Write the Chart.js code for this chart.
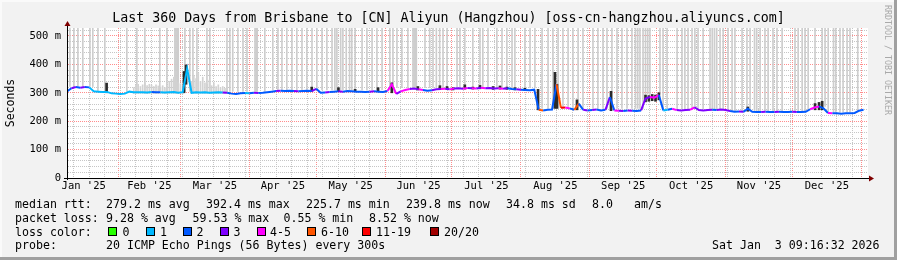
<!DOCTYPE html>
<html>
<head>
<meta charset="utf-8">
<script src="https://cdn.jsdelivr.net/npm/chart.js@4.4.0/dist/chart.umd.min.js"></script>
<style>
  html, body { margin: 0; padding: 0; background: #f2f2f2; }
  #wrap { position: relative; width: 897px; height: 260px; background: #f2f2f2; overflow: hidden;
          font-family: "DejaVu Sans Mono", monospace; color: #000; }
  #wrap canvas { position: absolute; left: 0; top: 0; }
  .t { position: absolute; white-space: pre; font-size: 11.6px; line-height: 14px; }
  #title { position: absolute; left: 0; top: 10px; width: 897px; text-align: center;
           font-size: 13.3px; line-height: 16px; white-space: pre; }
  #credit { position: absolute; left: 883px; top: 5px; writing-mode: vertical-rl; font-size: 8.3px;
            line-height: 10px; color: #a9a9a9; white-space: pre; }
  .box { position: absolute; width: 7px; height: 7px; border: 1px solid #000; }
  .edge { position: absolute; }
</style>
</head>
<body>
<div id="wrap">
  <canvas id="c" width="897" height="260"></canvas>
  <div id="title">Last 360 Days from Brisbane to [CN] Aliyun (Hangzhou) [oss-cn-hangzhou.aliyuncs.com]</div>
  <div id="credit">RRDTOOL / TOBI OETIKER</div>

  <div class="t" style="left:15px;top:197px">median rtt:</div>
  <div class="t" style="left:106px;top:197px">279.2 ms avg</div>
  <div class="t" style="left:206px;top:197px">392.4 ms max</div>
  <div class="t" style="left:306px;top:197px">225.7 ms min</div>
  <div class="t" style="left:406px;top:197px">239.8 ms now</div>
  <div class="t" style="left:506px;top:197px">34.8 ms sd</div>
  <div class="t" style="left:592px;top:197px">8.0</div>
  <div class="t" style="left:634px;top:197px">am/s</div>

  <div class="t" style="left:15px;top:210.7px">packet loss:</div>
  <div class="t" style="left:106px;top:210.7px">9.28 % avg</div>
  <div class="t" style="left:192.5px;top:210.7px">59.53 % max</div>
  <div class="t" style="left:283.5px;top:210.7px">0.55 % min</div>
  <div class="t" style="left:369px;top:210.7px">8.52 % now</div>

  <div class="t" style="left:15px;top:224.5px">loss color:</div>
  <div id="lossLegend"></div>

  <div class="t" style="left:15px;top:238.3px">probe:</div>
  <div class="t" style="left:106px;top:238.3px">20 ICMP Echo Pings (56 Bytes) every 300s</div>
  <div class="t" style="left:712px;top:238.3px">Sat Jan  3 09:16:32 2026</div>

  <div class="edge" style="left:0;top:0;width:897px;height:2px;background:#fafafa"></div>
  <div class="edge" style="left:0;top:0;width:2px;height:260px;background:#fafafa"></div>
  <div class="edge" style="left:0;top:257px;width:897px;height:3px;background:#a0a0a0"></div>
  <div class="edge" style="left:894px;top:0;width:3px;height:260px;background:#a0a0a0"></div>
</div>
<script>
// ---- data (days are counted from 1 Jan 2025 = day 0) ----

// RRD consolidated samples: one every 2 days starting at day 8 (9 Jan 2025)
const sampleStartDay = 8;
const sampleStepDays = 2;

// median RTT per sample, ms
const medianRtt = [
  305, 316, 320, 318, 320, 319, 305, 304, 303, 303,
  298, 297, 296, 297, 304, 302, 302, 302, 301, 303,
  302, 302, 301, 302, 303, 300, 302, 385, 300, 302,
  301, 302, 300, 301, 302, 301, 300, 297, 296, 298,
  299, 298, 300, 299, 300, 302, 304, 306, 307, 306,
  307, 306, 305, 306, 307, 306, 314, 300, 301, 303,
  304, 305, 304, 306, 305, 304, 304, 303, 304, 305,
  304, 303, 306, 330, 296, 305, 310, 313, 315, 312,
  310, 307, 309, 312, 313, 314, 312, 315, 316, 314,
  317, 316, 315, 318, 316, 317, 315, 316, 314, 316,
  313, 312, 311, 310, 309, 311, 240, 238, 240, 241,
  330, 247, 248, 245, 240, 262, 240, 238, 239, 241,
  238, 240, 285, 238, 237, 236, 238, 237, 236, 238,
  280, 285, 283, 292, 238, 240, 244, 239, 238, 239,
  240, 249, 239, 238, 239, 240, 239, 241, 239, 236,
  233, 234, 233, 244, 233, 232, 232, 233, 232, 232,
  233, 232, 232, 233, 232, 232, 233, 242, 248, 252,
  245, 229, 228, 228, 226, 228, 228, 229, 237, 240,
];

// loss class per sample (index into lossLabels / lossColors)
const lossClass = [
  2, 2, 3, 2, 3, 2, 1, 1, 1, 1,
  1, 1, 1, 1, 1, 1, 1, 1, 1, 1,
  2, 2, 1, 1, 1, 1, 1, 1, 1, 1,
  1, 1, 1, 1, 1, 1, 3, 2, 2, 2,
  2, 1, 2, 3, 2, 2, 2, 2, 3, 2,
  2, 2, 3, 2, 2, 2, 3, 2, 2, 3,
  2, 2, 3, 2, 2, 2, 2, 2, 2, 3,
  2, 2, 2, 4, 4, 3, 4, 4, 3, 3,
  4, 2, 2, 3, 3, 4, 3, 4, 3, 3,
  4, 3, 4, 3, 4, 3, 3, 3, 4, 3,
  2, 2, 3, 2, 2, 2, 2, 5, 2, 2,
  2, 5, 6, 4, 2, 5, 2, 3, 2, 3,
  2, 2, 3, 2, 4, 3, 2, 3, 2, 2,
  3, 3, 4, 4, 2, 1, 2, 4, 3, 3,
  3, 4, 3, 3, 3, 3, 2, 3, 3, 3,
  2, 2, 3, 2, 2, 2, 2, 3, 2, 2,
  3, 2, 2, 2, 3, 2, 2, 2, 4, 4,
  2, 2, 4, 2, 2, 2, 2, 2, 2, 2,
];

const lossLabels = ["0", "1", "2", "3", "4-5", "6-10", "11-19", "20/20"];
const lossColors = ["#26ff00", "#00b8ff", "#0059ff", "#7e00ff", "#ff00ff", "#ff5500", "#ff0000", "#a10000"];

// outlier smoke: samples whose slowest pings went off the top of the graph
const tallSmokeDays = [
  9.3, 11.1, 12.9, 15.1, 18.3, 19.6, 21.9, 25.0, 34.9, 39.4, 43.0, 49.7, 52.9, 56.5, 57, 57.5, 58,
  61.0, 63.2, 64.6, 66.4, 70.9, 72.2, 79.9, 81.2, 82.5, 84.8, 87.1, 88.9, 92.5, 93, 93.5, 96.9,
  100.5, 102.8, 104.6, 106.8, 109.1, 111.3, 113.6, 115.8, 118.1, 120.3, 122.6, 124.8, 127.1, 128.4,
  129.3, 131, 132, 133.5, 135, 136, 137.5, 140.6, 142.8, 145.1, 147.3, 149.6, 153.1, 154.5, 156.3,
  158.5, 161.2, 163.5, 164, 164.5, 165, 168.9, 171, 172.5, 174, 175.5, 177, 178.8, 183.3, 184.6,
  186.8, 190.4, 193.6, 194.9, 197.2, 201.2, 203.5, 205.7, 208, 209.3, 213.8, 216.1, 218.3, 221.5,
  224.2, 226.4, 228.7, 230.9, 233.2, 235.4, 237.7, 239.9, 244.4, 246.6, 248.9, 250.7, 252.9, 255.2,
  257.4, 259.7, 261.9, 263.5, 264.5, 265.5, 266.9, 268, 269, 270, 274.5, 275.9, 277.7, 282.2, 284.4,
  285.7, 287.1, 288.9, 290.2, 291.6, 293.9, 297, 298, 299, 300, 301.5, 302.9, 305.1, 306.9, 308.2,
  311.4, 313.6, 315, 317, 318, 319.5, 321.7, 323.1, 325.3, 327.1, 329.4, 335.2, 336.6, 338.4, 339.7,
  341.1, 344.2, 347.4, 348.7, 350.1, 352.5, 353.5, 355.4, 356.8, 358.6, 359.9, 363.4,
];
// where the outlier smoke starts (just above the median), by period
const smokeFloorFrom = [8, 20, 100, 156, 219.7, 267, 275, 306, 342, 349];
const smokeFloorMs = [322, 305, 310, 318, 245, 295, 244, 237, 252, 232];
const smokeCeilingMs = 600;

// lighter smoke band around February-March
const greySmokeDays = [
  38, 39, 40, 41, 42, 43, 44, 45, 46, 47, 48, 49, 50, 51, 52, 53, 54, 55, 56, 57, 58, 59, 60,
  64, 65, 66, 67, 68, 69, 70, 71, 72, 73, 74, 75, 76, 77, 78, 79, 80,
];
const greySmokeTop = [
  318, 326, 330, 322, 328, 334, 325, 330, 327, 322, 328, 324, 320, 325, 318, 322, 340, 348, 355, 345, 338, 332, 325,
  340, 360, 350, 368, 340, 355, 335, 330, 345, 325, 335, 322, 328, 318, 322, 316, 318,
];
const greySmokeBase = 297;

// dense (dark) smoke spikes
const darkSmokeDays = [
  25.8, 60.6, 61.5, 118, 130, 137.5, 147.8, 154, 165.7, 175.6,
  178.8, 181.5, 186.8, 190.4, 193.6, 199.5, 202.6, 205.7, 209.3, 213.8,
  219.7, 227.3, 228.2, 237.2, 252.5, 268, 269.5, 271, 272.5, 274,
  314, 344.2, 346, 347.4,
];
const darkSmokeLow = [
  300, 300, 330, 305, 304, 304, 304, 300, 310, 312,
  312, 310, 313, 313, 314, 312, 313, 312, 310, 308,
  240, 245, 245, 240, 237, 268, 270, 272, 270, 275,
  235, 240, 240, 240,
];
const darkSmokeHigh = [
  334, 375, 398, 320, 318, 312, 318, 335, 322, 325,
  322, 318, 328, 320, 326, 322, 324, 320, 318, 316,
  312, 372, 330, 275, 305, 292, 290, 294, 292, 300,
  250, 262, 266, 270,
];

// calendar: first day of each month (2025 plus 1 Jan 2026) and labels
const monthStartDays = [0, 31, 59, 90, 120, 151, 181, 212, 243, 273, 304, 334, 365];
const monthLabels = ["Jan '25", "Feb '25", "Mar '25", "Apr '25", "May '25", "Jun '25",
                     "Jul '25", "Aug '25", "Sep '25", "Oct '25", "Nov '25", "Dec '25"];
const firstSundayDay = 4; // 5 Jan 2025

const xMinDay = 8, xMaxDay = 368;
const yMaxMs = 528, yMajorStep = 100, yMinorStep = 20;

// ---- loss colour legend (html) ----
const lossBoxLeft = [108, 145.5, 182.5, 220, 256.5, 306.5, 361.5, 430];
const lossTextLeft = [122.5, 160, 196.5, 233.5, 270, 321, 376, 444];
const legendEl = document.getElementById("lossLegend");
lossLabels.forEach((lab, i) => {
  const b = document.createElement("div");
  b.className = "box";
  b.style.left = lossBoxLeft[i] + "px";
  b.style.top = "227px";
  b.style.background = lossColors[i];
  legendEl.appendChild(b);
  const t = document.createElement("div");
  t.className = "t";
  t.style.left = lossTextLeft[i] + "px";
  t.style.top = "224.5px";
  t.textContent = lab;
  legendEl.appendChild(t);
});

// ---- axis ticks ----
const monthLineSet = new Set(monthStartDays.filter((d) => d > xMinDay && d < xMaxDay));
const weekLineSet = new Set();
for (let d = firstSundayDay; d < xMaxDay; d += 7) if (d > xMinDay && !monthLineSet.has(d)) weekLineSet.add(d);
const labelByDay = new Map();
monthLabels.forEach((lab, i) => labelByDay.set((monthStartDays[i] + monthStartDays[i + 1]) / 2, lab));
const xTickSet = new Set([...weekLineSet, ...monthLineSet]);
labelByDay.forEach((_, d) => { if (d > xMinDay && d < xMaxDay) xTickSet.add(d); });
const xTickValues = [...xTickSet].sort((a, b) => a - b);

const yTickValues = [];
for (let v = 0; v <= yMaxMs; v += yMinorStep) yTickValues.push(v);

const GRID_MINOR = "#c6c6c6";
const GRID_MAJOR = "#ff8c8c";

function smokeFloor(day) {
  let f = smokeFloorMs[0];
  smokeFloorFrom.forEach((d, i) => { if (day >= d) f = smokeFloorMs[i]; });
  return f;
}

const medianPoints = medianRtt.map((v, i) => ({ x: sampleStartDay + i * sampleStepDays, y: v }));

Chart.defaults.font.family = '"DejaVu Sans Mono", monospace';
Chart.defaults.color = "#000";

new Chart(document.getElementById("c"), {
  type: "bar",
  data: {
    datasets: [
      {
        type: "line",
        label: "median rtt",
        data: medianPoints,
        order: 0,
        borderWidth: 2,
        pointRadius: 0,
        tension: 0,
        borderColor: lossColors[2],
        segment: { borderColor: (c) => lossColors[lossClass[c.p1DataIndex]] },
      },
      {
        label: "dense smoke",
        data: darkSmokeDays.map((d, i) => ({ x: d, y: [darkSmokeLow[i], darkSmokeHigh[i]] })),
        backgroundColor: "#2b2b2b",
        barThickness: 2,
        grouped: false,
        order: 1,
      },
      {
        label: "smoke",
        data: greySmokeDays.map((d, i) => ({ x: d, y: [greySmokeBase, greySmokeTop[i]] })),
        backgroundColor: "#d2d2d2",
        barThickness: 1,
        grouped: false,
        order: 2,
      },
      {
        label: "outlier smoke",
        data: tallSmokeDays.map((d) => ({ x: d, y: [smokeFloor(d), smokeCeilingMs] })),
        backgroundColor: "#cdcdcd",
        barThickness: 1,
        grouped: false,
        order: 3,
      },
    ],
  },
  options: {
    responsive: false,
    animation: false,
    events: [],
    layout: { padding: { top: 28, right: 29, left: 0, bottom: 0 } },
    plugins: { legend: { display: false }, tooltip: { enabled: false } },
    scales: {
      x: {
        type: "linear",
        min: xMinDay,
        max: xMaxDay,
        offset: false,
        afterFit: (s) => { s.height = 82; },
        afterBuildTicks: (s) => { s.ticks = xTickValues.map((v) => ({ value: v })); },
        grid: {
          offset: false,
          drawTicks: false,
          lineWidth: 1,
          color: (c) => {
            const v = c.tick ? c.tick.value : null;
            if (monthLineSet.has(v)) return GRID_MAJOR;
            if (weekLineSet.has(v)) return GRID_MINOR;
            return "rgba(0,0,0,0)";
          },
        },
        border: { display: true, color: "#000", width: 1, dash: [1, 1] },
        ticks: {
          autoSkip: false,
          maxRotation: 0,
          minRotation: 0,
          padding: 2,
          font: { size: 10.5 },
          color: "#000",
          callback: (v) => labelByDay.get(v) || "",
        },
      },
      y: {
        min: 0,
        max: yMaxMs,
        afterFit: (s) => { s.width = 67; },
        afterBuildTicks: (s) => { s.ticks = yTickValues.map((v) => ({ value: v })); },
        grid: {
          drawTicks: false,
          lineWidth: 1,
          color: (c) => (c.tick && c.tick.value % yMajorStep === 0 ? GRID_MAJOR : GRID_MINOR),
        },
        border: { display: true, color: "#000", width: 1, dash: [1, 1] },
        ticks: {
          autoSkip: false,
          padding: 6,
          font: { size: 10.5 },
          color: "#000",
          callback: (v) => (v % yMajorStep !== 0 ? "" : v === 0 ? "0" : v + " m"),
        },
        title: {
          display: true,
          text: "Seconds",
          color: "#000",
          font: { size: 11.5 },
          padding: { top: 4, bottom: 0 },
        },
      },
    },
  },
  plugins: [
    {
      id: "canvasBg",
      beforeDraw(chart) {
        const { ctx, chartArea: a } = chart;
        ctx.save();
        ctx.fillStyle = "#ffffff";
        ctx.fillRect(a.left, a.top, a.right - a.left, a.bottom - a.top);
        ctx.restore();
      },
    },
    {
      id: "axisArrows",
      afterDraw(chart) {
        const { ctx, chartArea: a } = chart;
        const ax = Math.floor(a.left) + 0.5;
        const ay = Math.floor(a.bottom) + 0.5;
        ctx.save();
        ctx.strokeStyle = "#000";
        ctx.lineWidth = 1;
        ctx.beginPath();
        ctx.moveTo(ax, a.bottom + 2);
        ctx.lineTo(ax, a.top - 2);
        ctx.moveTo(a.left - 3, ay);
        ctx.lineTo(a.right + 1, ay);
        ctx.stroke();
        ctx.fillStyle = "#7f0000";
        ctx.beginPath();
        ctx.moveTo(ax - 3, a.top - 2);
        ctx.lineTo(ax + 3, a.top - 2);
        ctx.lineTo(ax, a.top - 7);
        ctx.closePath();
        ctx.fill();
        ctx.beginPath();
        ctx.moveTo(a.right + 1, ay - 3);
        ctx.lineTo(a.right + 1, ay + 3);
        ctx.lineTo(a.right + 6, ay);
        ctx.closePath();
        ctx.fill();
        ctx.restore();
      },
    },
  ],
});
</script>
</body>
</html>
